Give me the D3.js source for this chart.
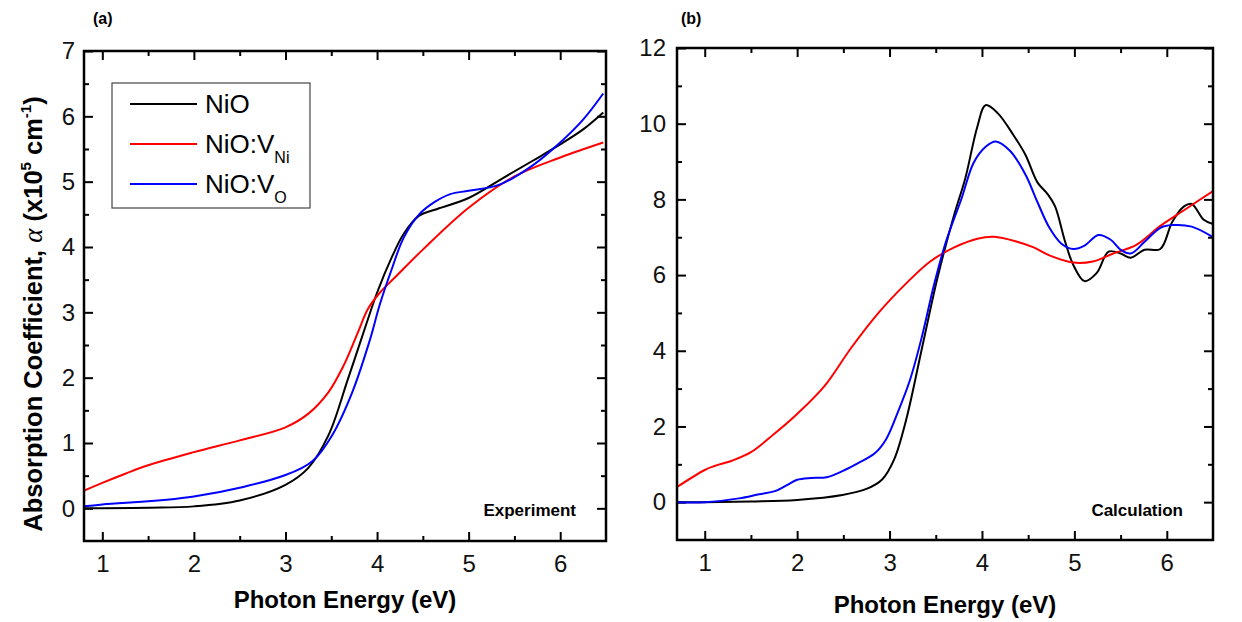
<!doctype html>
<html>
  <head>
    <script src="https://cdn.jsdelivr.net/npm/d3@7"></script>
    <style>
      body { margin: 0; background: #fff; }
      text { font-family: "Liberation Sans", Arial, sans-serif; }
    </style>
  </head>
  <body>
    <svg id="chart" width="1242" height="622"></svg>

    <script>
      // (a) experiment
      var expNiO_E = [0.8, 1.0, 1.5, 2.0, 2.5, 3.0, 3.25, 3.47, 3.68, 3.88, 4.0, 4.16, 4.29, 4.46, 4.63, 5.0, 5.37, 5.7, 6.0, 6.25, 6.47];
      var expNiO_A = [0.0, 0.0, 0.01, 0.03, 0.12, 0.36, 0.62, 1.12, 1.97, 2.81, 3.3, 3.84, 4.2, 4.48, 4.57, 4.75, 5.05, 5.32, 5.57, 5.8, 6.06];
      var expVNi_E = [0.8, 1.0, 1.25, 1.5, 2.0, 2.5, 3.0, 3.25, 3.47, 3.64, 3.79, 3.9, 4.03, 4.2, 4.5, 5.0, 5.5, 6.0, 6.47];
      var expVNi_A = [0.27, 0.39, 0.53, 0.66, 0.86, 1.04, 1.24, 1.45, 1.78, 2.2, 2.69, 3.05, 3.3, 3.54, 3.96, 4.6, 5.08, 5.37, 5.6];
      var expVO_E = [0.8, 1.0, 2.0, 3.0, 3.3, 3.51, 3.73, 3.92, 4.03, 4.16, 4.29, 4.46, 4.63, 4.8, 5.0, 5.33, 5.7, 6.0, 6.25, 6.47];
      var expVO_A = [0.03, 0.06, 0.18, 0.51, 0.73, 1.12, 1.78, 2.57, 3.12, 3.66, 4.14, 4.5, 4.69, 4.81, 4.86, 4.95, 5.25, 5.6, 5.95, 6.35];

      // (b) calculation
      var calcNiO_E = [0.7, 1.0, 1.5, 2.0, 2.49, 2.75, 2.92, 3.05, 3.18, 3.35, 3.52, 3.7, 3.82, 3.95, 4.04, 4.17, 4.34, 4.47, 4.6, 4.71, 4.79, 4.9, 4.99, 5.11, 5.24, 5.37, 5.5, 5.61, 5.76, 5.93, 6.06, 6.19, 6.27, 6.4, 6.5];
      var calcNiO_A = [0, 0, 0.02, 0.06, 0.19, 0.35, 0.6, 1.13, 2.18, 4.06, 5.94, 7.6, 8.56, 9.92, 10.49, 10.28, 9.7, 9.18, 8.45, 8.14, 7.82, 6.88, 6.26, 5.84, 6.05, 6.62, 6.57, 6.46, 6.67, 6.69, 7.41, 7.82, 7.88, 7.46, 7.35];
      var calcVNi_E = [0.7, 1.0, 1.1, 1.3, 1.5, 1.75, 2.0, 2.3, 2.58, 2.88, 3.18, 3.44, 3.7, 3.95, 4.13, 4.38, 4.56, 4.73, 4.99, 5.2, 5.42, 5.67, 5.93, 6.19, 6.5];
      var calcVNi_A = [0.4, 0.85, 0.95, 1.1, 1.32, 1.8, 2.33, 3.08, 4.06, 5.0, 5.78, 6.36, 6.73, 6.96, 7.01, 6.88, 6.73, 6.52, 6.33, 6.36, 6.57, 6.8, 7.3, 7.72, 8.22];
      var calcVO_E = [0.7, 1.0, 1.37, 1.59, 1.76, 1.89, 2.0, 2.15, 2.32, 2.49, 2.66, 2.84, 2.96, 3.09, 3.22, 3.35, 3.48, 3.61, 3.78, 3.91, 4.04, 4.15, 4.3, 4.47, 4.6, 4.73, 4.86, 4.99, 5.11, 5.26, 5.39, 5.5, 5.61, 5.76, 5.93, 6.06, 6.27, 6.5];
      var calcVO_A = [0, 0, 0.1, 0.21, 0.29, 0.45, 0.59, 0.64, 0.66, 0.82, 1.03, 1.29, 1.65, 2.38, 3.22, 4.37, 5.73, 6.88, 8.03, 8.97, 9.39, 9.53, 9.29, 8.66, 7.93, 7.25, 6.83, 6.69, 6.78, 7.06, 6.94, 6.67, 6.57, 6.88, 7.25, 7.32, 7.28, 7.0];

      var xMajor = [1, 2, 3, 4, 5, 6];
      var xMinor = [1.5, 2.5, 3.5, 4.5, 5.5];
      var expYMajor = [0, 1, 2, 3, 4, 5, 6, 7];
      var expYMinor = [0.5, 1.5, 2.5, 3.5, 4.5, 5.5, 6.5];
      var calcYMajor = [0, 2, 4, 6, 8, 10, 12];
      var calcYMinor = [1, 3, 5, 7, 9, 11];

      var colors = { NiO: "#000", VNi: "#f00", VO: "#00f" };

      var svg = d3.select("#chart");

      function panel(opt) {
        var x = d3.scaleLinear().domain(opt.xDomain).range([opt.left, opt.right]);
        var y = d3.scaleLinear().domain(opt.yDomain).range([opt.bottom, opt.top]);
        var g = svg.append("g");

        // ticks, all pointing inward
        function ticks(axis, pos, values, size, labels, pad) {
          var a = axis.tickValues(values).tickSizeInner(-size).tickSizeOuter(0);
          if (labels) a.tickPadding(pad).tickFormat(d3.format("d"));
          else a.tickFormat("");
          var t = g.append("g").attr("transform", pos).call(a);
          t.select(".domain").remove();
          t.selectAll("line").attr("stroke", "#000").attr("stroke-width", 2);
          t.selectAll("text").attr("font-size", 24).attr("fill", "#111");
          return t;
        }
        ticks(d3.axisBottom(x), "translate(0," + opt.bottom + ")", xMajor, 9, true, 14);
        ticks(d3.axisBottom(x), "translate(0," + opt.bottom + ")", xMinor, 5, false);
        ticks(d3.axisTop(x), "translate(0," + opt.top + ")", xMajor, 9, false);
        ticks(d3.axisTop(x), "translate(0," + opt.top + ")", xMinor, 5, false);
        ticks(d3.axisLeft(y), "translate(" + opt.left + ",0)", opt.yMajor, 9, true, opt.yPad);
        ticks(d3.axisLeft(y), "translate(" + opt.left + ",0)", opt.yMinor, 5, false);
        ticks(d3.axisRight(y), "translate(" + opt.right + ",0)", opt.yMajor, 9, false);
        ticks(d3.axisRight(y), "translate(" + opt.right + ",0)", opt.yMinor, 5, false);

        var clipId = "clip" + opt.name;
        svg.append("clipPath").attr("id", clipId).append("rect")
          .attr("x", opt.left).attr("y", opt.top)
          .attr("width", opt.right - opt.left).attr("height", opt.bottom - opt.top);

        var line = d3.line()
          .x(function(d) { return x(d[0]); })
          .y(function(d) { return y(d[1]); })
          .curve(d3.curveCatmullRom.alpha(0.5));

        opt.series.forEach(function(s) {
          g.append("path")
            .attr("clip-path", "url(#" + clipId + ")")
            .attr("d", line(d3.zip(s.e, s.a)))
            .attr("fill", "none")
            .attr("stroke", colors[s.key])
            .attr("stroke-width", 2);
        });

        g.append("rect")
          .attr("x", opt.left).attr("y", opt.top)
          .attr("width", opt.right - opt.left).attr("height", opt.bottom - opt.top)
          .attr("fill", "none").attr("stroke", "#000").attr("stroke-width", 2.5);

        g.append("text")
          .attr("x", (opt.left + opt.right) / 2).attr("y", opt.xLabelY)
          .attr("text-anchor", "middle").attr("font-size", 24).attr("font-weight", "bold")
          .text("Photon Energy (eV)");

        g.append("text")
          .attr("x", opt.right - 30).attr("y", 516)
          .attr("text-anchor", "end").attr("font-size", 17).attr("font-weight", "bold")
          .text(opt.note);

        g.append("text")
          .attr("x", opt.tagX).attr("y", 24)
          .attr("font-size", 16).attr("font-weight", "bold")
          .text(opt.tag);
      }

      panel({
        name: "a", tag: "(a)", tagX: 93, note: "Experiment",
        left: 84, right: 606, top: 51, bottom: 541,
        xDomain: [0.8, 6.5], yDomain: [-0.5, 7],
        yMajor: expYMajor, yMinor: expYMinor, yPad: 9, xLabelY: 608,
        series: [
          { key: "NiO", e: expNiO_E, a: expNiO_A },
          { key: "VNi", e: expVNi_E, a: expVNi_A },
          { key: "VO", e: expVO_E, a: expVO_A }
        ]
      });

      panel({
        name: "b", tag: "(b)", tagX: 681, note: "Calculation",
        left: 677, right: 1213, top: 48, bottom: 540,
        xDomain: [0.7, 6.5], yDomain: [-1, 12],
        yMajor: calcYMajor, yMinor: calcYMinor, yPad: 11, xLabelY: 613,
        series: [
          { key: "NiO", e: calcNiO_E, a: calcNiO_A },
          { key: "VNi", e: calcVNi_E, a: calcVNi_A },
          { key: "VO", e: calcVO_E, a: calcVO_A }
        ]
      });

      // y axis title of panel (a)
      var yt = svg.append("text")
        .attr("transform", "translate(42,314) rotate(-90)")
        .attr("text-anchor", "middle").attr("font-size", 25.5).attr("font-weight", "bold");
      yt.append("tspan").text("Absorption Coefficient, ");
      yt.append("tspan").attr("font-family", "'Liberation Serif', serif").attr("font-style", "italic")
        .attr("font-weight", "normal").attr("font-size", 27).text("\u03b1");
      yt.append("tspan").text(" (x10");
      yt.append("tspan").attr("font-size", 15).attr("dy", -11).text("5");
      yt.append("tspan").attr("dy", 11).text(" cm");
      yt.append("tspan").attr("font-size", 15).attr("dy", -11).text("-1");
      yt.append("tspan").attr("dy", 11).text(")");

      // legend of panel (a)
      var legendKeys = ["NiO", "VNi", "VO"];
      var legendMain = ["NiO", "NiO:V", "NiO:V"];
      var legendSub = ["", "Ni", "O"];
      var leg = svg.append("g");
      leg.append("rect").attr("x", 112).attr("y", 83).attr("width", 198).attr("height", 125)
        .attr("fill", "#fff").attr("stroke", "#444").attr("stroke-width", 1.2);
      var rowY = d3.scalePoint().domain(legendKeys).range([104, 184]);
      legendKeys.forEach(function(k, i) {
        leg.append("line").attr("x1", 130).attr("x2", 197)
          .attr("y1", rowY(k)).attr("y2", rowY(k))
          .attr("stroke", colors[k]).attr("stroke-width", 2);
        var t = leg.append("text").attr("x", 205).attr("y", rowY(k) + 9).attr("font-size", 26);
        t.append("tspan").text(legendMain[i]);
        if (legendSub[i]) t.append("tspan").attr("font-size", 16).attr("dy", 10).text(legendSub[i]);
      });
    </script>
  </body>
</html>
